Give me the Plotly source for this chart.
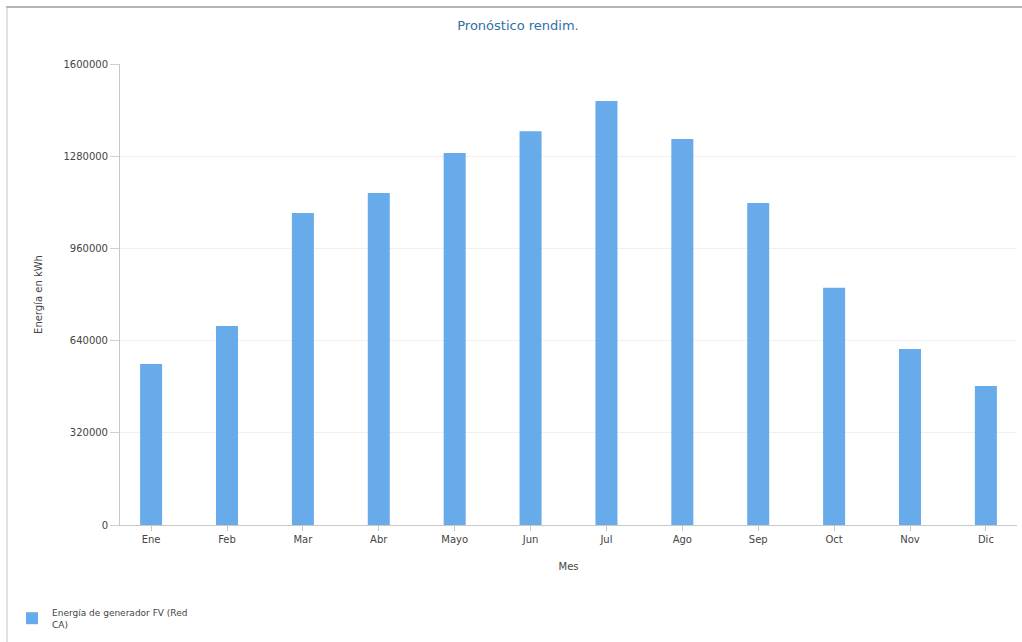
import plotly.graph_objects as go

meses = ["Ene", "Feb", "Mar", "Abr", "Mayo", "Jun", "Jul", "Ago", "Sep", "Oct", "Nov", "Dic"]
energia = [559000, 691000, 1083000, 1152000, 1291000, 1367000, 1472000, 1340000, 1118000, 823000, 611000, 482000]
y_ticks = [0, 320000, 640000, 960000, 1280000, 1600000]

W, H = 1022, 642
L, R, T, B = 120, 1017, 64, 525

def px(x):
    return (x - L) / (R - L)

def py(y):
    return (B - y) / (B - T)

fig = go.Figure()
fig.add_trace(go.Bar(
    x=list(range(len(meses))), y=energia,
    name="Energía de generador FV (Red<br>CA)",
    marker=dict(color="#67abeb", line=dict(width=0)),
    width=0.29,
))

font = "DejaVu Sans, Verdana, sans-serif"
fig.update_layout(
    width=W, height=H,
    margin=dict(l=L, r=W - R, t=T, b=H - B, pad=0),
    paper_bgcolor="white", plot_bgcolor="white",
    font=dict(family=font, size=10, color="#444"),
    title=dict(text="Pronóstico rendim.", x=(518) / W, xanchor="center",
               y=1 - 25 / H, yanchor="middle",
               font=dict(family=font, size=13, color="#2f6fa5")),
    xaxis=dict(
        range=[-0.41, 11.41],
        tickmode="array", tickvals=list(range(len(meses))), ticktext=meses,
        showgrid=False, showline=True, linecolor="#c8c8c8", linewidth=1,
        ticks="outside", ticklen=5, tickcolor="#c8c8c8",
        title=dict(text="Mes", standoff=18, font=dict(size=10, color="#444")),
        zeroline=False, fixedrange=True,
    ),
    yaxis=dict(
        range=[0, 1600000],
        tickmode="array", tickvals=y_ticks, ticktext=[str(v) for v in y_ticks],
        showgrid=True, gridcolor="#f0f0f0", gridwidth=1,
        showline=True, linecolor="#c8c8c8", linewidth=1,
        ticks="outside", ticklen=9, tickcolor="#d0d0d0",
        title=dict(text="Energía en kWh", standoff=18, font=dict(size=10, color="#444")),
        zeroline=False,
    ),
    showlegend=True,
    legend=dict(
        x=px(12), y=py(600), xanchor="left", yanchor="top",
        font=dict(family=font, size=9, color="#444"),
        bgcolor="rgba(0,0,0,0)", itemwidth=30,
    ),
    shapes=[
        dict(type="line", xref="paper", yref="paper",
             x0=px(6), x1=px(1022), y0=py(7), y1=py(7),
             line=dict(color="#b4b4b4", width=2)),
        dict(type="line", xref="paper", yref="paper",
             x0=px(7), x1=px(7), y0=py(7), y1=py(642),
             line=dict(color="#c4c4c4", width=1)),
    ],
)

fig.write_html("out.html")
